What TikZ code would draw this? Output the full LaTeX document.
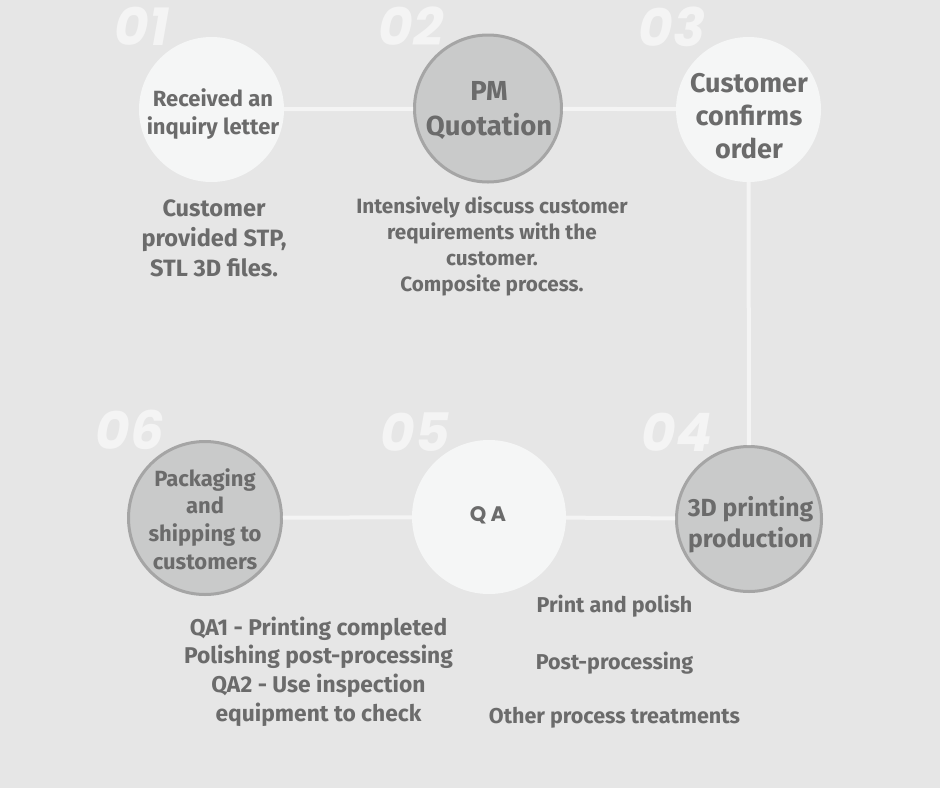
\documentclass[tikz,border=0pt]{standalone}
\usepackage{fontspec}
\setmainfont{Fira Sans}
\newfontfamily\numfont{Poppins}
\usepackage{tikz}

\definecolor{bggray}{HTML}{E6E6E6}
\definecolor{paper}{HTML}{F5F6F6}
\definecolor{stone}{HTML}{C9CACA}
\definecolor{rim}{HTML}{A5A5A5}
\definecolor{ink}{HTML}{6B6B6B}
\definecolor{track}{HTML}{F4F4F4}

\begin{document}
\begin{tikzpicture}[x=1pt,y=-1pt,
  light/.style={circle,fill=paper,minimum size=#1,inner sep=0pt},
  dark/.style={circle,fill=stone,draw=rim,line width=3,minimum size=#1,
    inner sep=0pt},
  number/.style={text=track,font=\numfont\fontsize{53}{53}\selectfont\bfseries\itshape},
  note/.style={text=ink,align=center,inner sep=0pt},
  link/.style={track,line width=4}]

\fill[bggray] (0,0) rectangle (940,788);

% step numbers
\node[number] (n1) at (142,26) {01};
\node[number] (n2) at (411,26) {02};
\node[number] (n3) at (672,27) {03};
\node[number] (n4) at (677,432) {04};
\node[number] (n5) at (415,432) {05};
\node[number] (n6) at (130,430) {06};

% steps
\node[light=145] (c1) at (211.5,109.5) {};
\node[dark=147]  (c2) at (488,108.5) {};
\node[light=145] (c3) at (748.5,109.5) {};
\node[dark=145]  (c4) at (749,519) {};
\node[light=154] (c5) at (489,517) {};
\node[dark=153]  (c6) at (205,518) {};

\draw[link] (c1) -- (c2);
\draw[link] (c2) -- (c3);
\draw[link] (c3) -- (c4);
\draw[link] (c4) -- (c5);
\draw[link] (c5) -- (c6);

% step titles
\node[note, font=\fontsize{22}{28}\selectfont\bfseries]
  (l1) at (213,114) {Received an\\inquiry letter};
\node[note, font=\fontsize{27.5}{35}\selectfont\bfseries]
  (l2) at (489,110) {PM\\Quotation};
\node[note, font=\fontsize{27}{33}\selectfont\bfseries]
  (l3) at (749,116) {Customer\\confirms\\order};
\node[note, font=\fontsize{24.8}{31}\selectfont\bfseries]
  (l4) at (750.5,524.5) {3D printing\\production};
\node[note, font=\numfont\fontsize{21}{21}\selectfont\bfseries]
  (l5) at (488,515.5) {Q\hspace{4pt}A};
\node[note, font=\fontsize{22}{27.7}\selectfont\bfseries]
  (l6) at (205,519) {Packaging\\and\\shipping to\\customers};

% notes
\node[note, font=\fontsize{23.6}{30}\selectfont\bfseries]
  (t1) at (214,238) {Customer\\provided STP,\\STL 3D files.};
\node[note, font=\fontsize{20.7}{26}\selectfont\bfseries]
  (t2) at (492,246) {Intensively discuss customer\\requirements with the\\customer.\\Composite process.};
\node[note, font=\fontsize{21.5}{28}\selectfont\bfseries]
  (t4a) at (614.5,606) {Print and polish};
\node[note, font=\fontsize{21.5}{28}\selectfont\bfseries]
  (t4b) at (614.5,663) {Post-processing};
\node[note, font=\fontsize{21.5}{28}\selectfont\bfseries]
  (t4c) at (614.5,718) {Other process treatments};
\node[note, font=\fontsize{22.8}{28.7}\selectfont\bfseries]
  (t5) at (318.5,671.5) {QA1 - Printing completed\\Polishing post-processing\\QA2 - Use inspection\\equipment to check};
\end{tikzpicture}
\end{document}
